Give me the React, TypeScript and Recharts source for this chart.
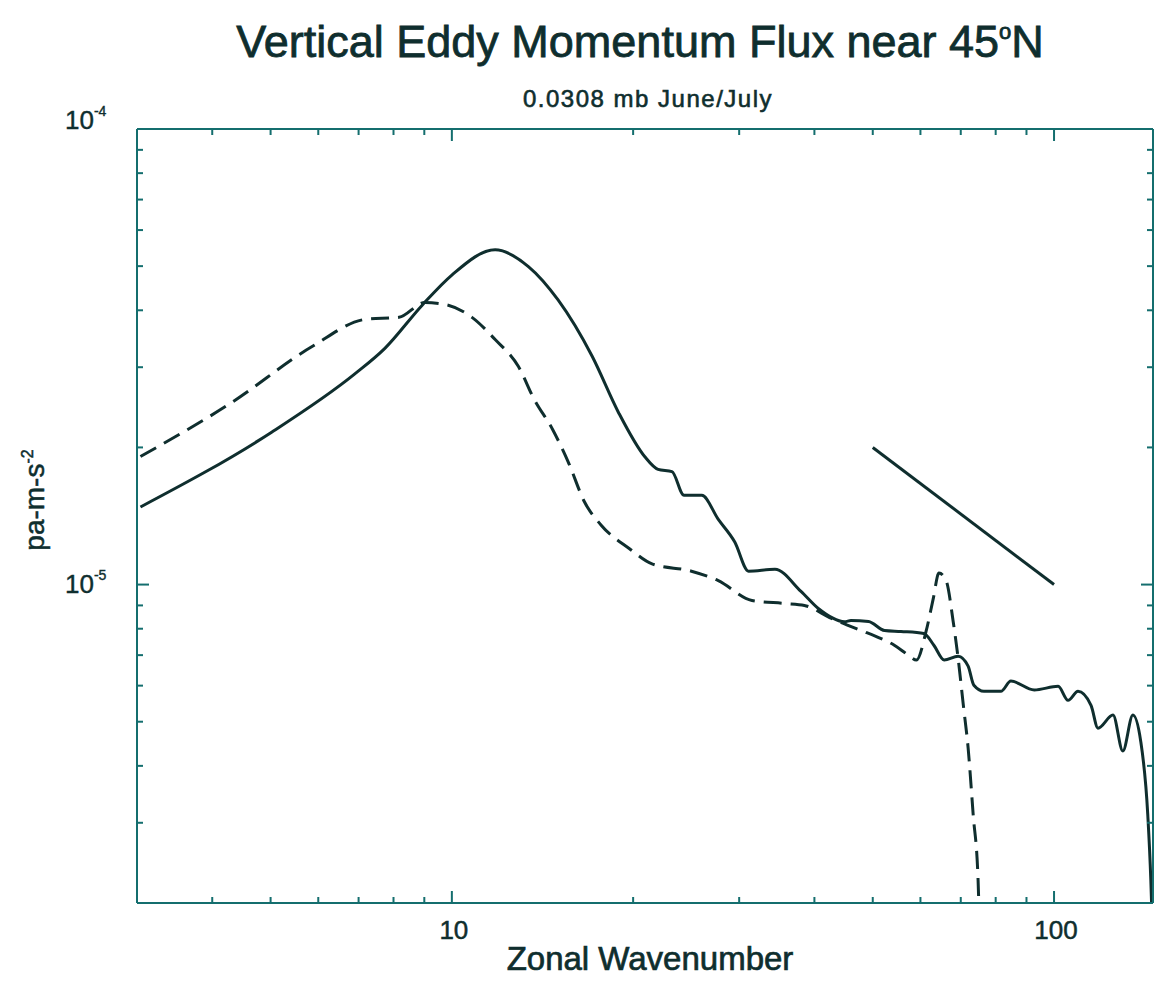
import React from 'react';
import { LineChart, Line, XAxis, YAxis, ReferenceLine } from 'recharts';

// solid curve
const solidWave = [
  3.04, 5.02, 6.9, 7.74, 8.92, 10.0, 11.8, 13.4, 15.0, 17.1, 18.9, 20.9, 22.0, 23.2, 24.3, 26.0,
  27.7, 29.5, 31.1, 34.4, 38.0, 40.6, 44.9, 46.0, 49.2, 52.3, 55.7, 60.8, 63.2, 65.7, 69.3, 72.0,
  73.6, 76.5, 81.6, 84.8, 92.7, 101.6, 105.5, 109.6, 115.2, 118.3, 125.3, 130.1, 135.2, 139.3,
  143.1, 144.8, 145.2,
];
const solidFlux = [
  1.48e-5, 2.16e-5, 2.9e-5, 3.3e-5, 4.1e-5, 4.78e-5, 5.43e-5, 4.99e-5, 4.22e-5, 3.17e-5,
  2.39e-5, 1.91e-5, 1.79e-5, 1.77e-5, 1.57e-5, 1.57e-5, 1.39e-5, 1.24e-5, 1.07e-5, 1.08e-5, 9.66e-6,
  8.86e-6, 8.29e-6, 8.34e-6, 8.3e-6, 7.93e-6, 7.89e-6, 7.81e-6, 7.35e-6, 6.83e-6, 6.96e-6, 6.62e-6,
  6.01e-6, 5.83e-6, 5.83e-6, 6.14e-6, 5.87e-6, 5.98e-6, 5.57e-6, 5.83e-6, 5.43e-6, 4.84e-6, 5.17e-6,
  4.31e-6, 5.17e-6, 4.53e-6, 3.13e-6, 2.24e-6, 2.0e-6,
];

// dashed curve
const dashedWave = [
  3.04, 4.31, 5.86, 7.18, 8.17, 9.02, 9.73, 10.8, 11.8, 12.9, 13.7, 14.7, 15.6, 16.6, 17.7, 19.7,
  21.5, 25.0, 27.7, 31.5, 35.7, 38.5, 42.7, 47.8, 50.7, 54.3, 57.3, 59.1, 61.3, 63.0, 64.4, 66.2,
  68.0, 69.3, 70.7, 72.0, 73.4, 74.8, 75.0,
];
const dashedFlux = [
  1.91e-5, 2.51e-5, 3.33e-5, 3.82e-5, 3.86e-5, 4.16e-5, 4.12e-5, 3.86e-5, 3.45e-5, 3.01e-5, 2.55e-5,
  2.19e-5, 1.86e-5, 1.52e-5, 1.35e-5, 1.2e-5, 1.11e-5, 1.07e-5, 1.02e-5, 9.23e-6, 9.09e-6, 9.0e-6,
  8.43e-6, 7.93e-6, 7.69e-6, 7.36e-6, 7.0e-6, 6.83e-6, 7.89e-6, 9.3e-6, 1.06e-5, 1.02e-5, 8.3e-6,
  6.89e-6, 5.43e-6, 4.38e-6, 3.13e-6, 2.24e-6, 2.0e-6,
];

// slope reference segment
const slopeWave = [50, 100];
const slopeFlux = [2e-5, 1e-5];

const xTicks = [4, 5, 6, 7, 8, 9, 10, 20, 30, 40, 50, 60, 70, 80, 90, 100];
const xMajor = [10, 100];
const yTicks = [
  3e-6, 4e-6, 5e-6, 6e-6, 7e-6, 8e-6, 9e-6, 1e-5, 2e-5, 3e-5, 4e-5, 5e-5, 6e-5, 7e-5, 8e-5, 9e-5, 1e-4,
];
const yMajor = [1e-5, 1e-4];
const yExp = ['-5', '-4'];

const solidData = solidWave.map((k, i) => ({ k, v: solidFlux[i] }));
const dashedData = dashedWave.map((k, i) => ({ k, v: dashedFlux[i] }));

const INK = '#0f2e2e';
const AXIS = '#146e6e';
const FONT = 'Liberation Sans, Arial, sans-serif';

const isMajorX = (v: number) => xMajor.includes(v);
const majorYIndex = (v: number) => yMajor.findIndex((m) => Math.abs(m - v) / m < 1e-6);

function BottomTick({ x, y, payload }: any) {
  const major = isMajorX(payload.value);
  return (
    <g>
      <line x1={x} y1={y} x2={x} y2={y - (major ? 12 : 6)} stroke={AXIS} strokeWidth={2} />
      {major && (
        <text x={x + 2} y={y + 36} textAnchor="middle" fontSize={26} fontFamily={FONT} fill={INK} stroke={INK} strokeWidth={0.5}>
          {payload.value}
        </text>
      )}
    </g>
  );
}

function TopTick({ x, y, payload }: any) {
  const major = isMajorX(payload.value);
  return <line x1={x} y1={y} x2={x} y2={y + (major ? 12 : 6)} stroke={AXIS} strokeWidth={2} />;
}

function LeftTick({ x, y, payload }: any) {
  const idx = majorYIndex(payload.value);
  const major = idx >= 0;
  return (
    <g>
      {idx !== 1 && (
        <line x1={x} y1={y} x2={x + (major ? 12 : 6)} y2={y} stroke={AXIS} strokeWidth={2} />
      )}
      {major && (
        <text x={x - 72} y={y + (idx === 1 ? 0 : 8)} fontSize={26} fontFamily={FONT} fill={INK} stroke={INK} strokeWidth={0.4}>
          10
          <tspan dy={-13} fontSize={14}>
            {yExp[idx]}
          </tspan>
        </text>
      )}
    </g>
  );
}

function RightTick({ x, y, payload }: any) {
  const major = majorYIndex(payload.value) >= 0;
  return <line x1={x} y1={y} x2={x - (major ? 12 : 6)} y2={y} stroke={AXIS} strokeWidth={2} />;
}

export default function App() {
  return (
    <div style={{ position: 'absolute', left: 0, top: 0, width: 1154, height: 981, background: '#fff' }}>
      <LineChart width={1154} height={981} margin={{ top: 128, right: 0, bottom: 0, left: 0 }}>
        <text x={640} y={57} textAnchor="middle" fontSize={45} fontFamily={FONT} fill={INK} stroke={INK} strokeWidth={0.8}>
          Vertical Eddy Momentum Flux near 45
          <tspan dy={-18} fontSize={22}>o</tspan>
          <tspan dy={18}>N</tspan>
        </text>
        <text
          x={648}
          y={107}
          textAnchor="middle"
          fontSize={24}
          letterSpacing={1.5}
          fontFamily={FONT}
          fill={INK}
          stroke={INK}
          strokeWidth={0.6}
        >
          0.0308 mb June/July
        </text>
        <text
          transform="translate(44 500) rotate(-90)"
          textAnchor="middle"
          fontSize={28}
          fontFamily={FONT}
          fill={INK}
          stroke={INK}
          strokeWidth={0.5}
        >
          pa-m-s
          <tspan dy={-11} fontSize={16}>-2</tspan>
        </text>
        <text x={650} y={970} textAnchor="middle" fontSize={33} fontFamily={FONT} fill={INK} stroke={INK} strokeWidth={0.7}>
          Zonal Wavenumber
        </text>

        <XAxis
          dataKey="k"
          type="number"
          scale="log"
          domain={[3, 146]}
          allowDataOverflow
          ticks={xTicks}
          interval={0}
          tickSize={0}
          tickMargin={0}
          tickLine={false}
          tick={<BottomTick />}
          height={78}
          axisLine={{ stroke: AXIS, strokeWidth: 2 }}
        />
        <XAxis
          xAxisId="top"
          orientation="top"
          dataKey="k"
          type="number"
          scale="log"
          domain={[3, 146]}
          allowDataOverflow
          ticks={xTicks}
          interval={0}
          tickSize={0}
          tickMargin={0}
          tickLine={false}
          tick={<TopTick />}
          height={1}
          axisLine={{ stroke: AXIS, strokeWidth: 2 }}
        />
        <YAxis
          type="number"
          scale="log"
          domain={[2e-6, 1e-4]}
          allowDataOverflow
          ticks={yTicks}
          interval={0}
          tickSize={0}
          tickMargin={0}
          tickLine={false}
          tick={<LeftTick />}
          width={137}
          axisLine={{ stroke: AXIS, strokeWidth: 2 }}
        />
        <YAxis
          yAxisId="right"
          orientation="right"
          type="number"
          scale="log"
          domain={[2e-6, 1e-4]}
          allowDataOverflow
          ticks={yTicks}
          interval={0}
          tickSize={0}
          tickMargin={0}
          tickLine={false}
          tick={<RightTick />}
          width={1}
          axisLine={{ stroke: AXIS, strokeWidth: 2 }}
        />

        <Line
          data={solidData}
          dataKey="v"
          type="monotoneX"
          stroke={INK}
          strokeWidth={3}
          dot={false}
          isAnimationActive={false}
        />
        <Line
          data={dashedData}
          dataKey="v"
          type="monotoneX"
          stroke={INK}
          strokeWidth={3}
          strokeDasharray="18 9"
          dot={false}
          isAnimationActive={false}
        />
        <ReferenceLine
          segment={[
            { x: slopeWave[0], y: slopeFlux[0] },
            { x: slopeWave[1], y: slopeFlux[1] },
          ]}
          stroke={INK}
          strokeWidth={3}
        />
      </LineChart>
    </div>
  );
}
